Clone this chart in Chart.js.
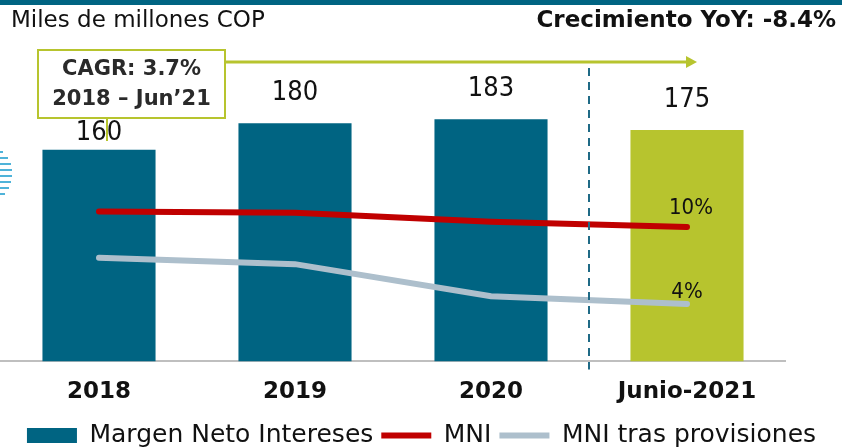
<!DOCTYPE html>
<html>
<head>
<meta charset="utf-8">
<script src="https://cdn.jsdelivr.net/npm/chart.js@4.4.0/dist/chart.umd.min.js"></script>
<style>
  html, body { margin: 0; padding: 0; background: #fff; }
  #wrap { position: relative; width: 842px; height: 448px; }
</style>
</head>
<body>
<div id="wrap"><canvas id="mni" width="842" height="448"></canvas></div>
<script>
// datos
const categorias = ["2018", "2019", "2020", "Junio-2021"];
const margenNeto = [160, 180, 183, 175];
const mni = [11.2, 11.1, 10.4, 10.0];
const mniProvisiones = [7.6, 7.1, 4.6, 4.0];
const etiquetasMni = ["", "", "", "10%"];
const etiquetasProv = ["", "", "", "4%"];

const FONT = "'DejaVu Sans', sans-serif";
const FONT_NUM = "'DejaVu Sans Condensed', 'DejaVu Sans', sans-serif";
const TEAL = "#006482";
const LIME = "#b7c42e";
const RED = "#c00000";
const GRAY = "#adbfcc";

// textos, caja CAGR, flecha, linea punteada y etiquetas
const extras = {
  id: "extras",
  afterDatasetsDraw(chart) {
    const ctx = chart.ctx;
    const x = chart.scales.x;
    const area = chart.chartArea;
    ctx.save();

    // banda superior
    ctx.fillStyle = TEAL;
    ctx.fillRect(0, 0, 842, 5);

    ctx.fillStyle = "#111";
    ctx.font = "23px " + FONT;
    ctx.textBaseline = "middle";
    ctx.textAlign = "left";
    ctx.fillText("Miles de millones COP", 11, 21);
    ctx.font = "bold 23px " + FONT;
    ctx.textAlign = "right";
    ctx.fillText("Crecimiento YoY: -8.4%", 836, 21);

    // decoracion a la izquierda
    ctx.strokeStyle = "#4fb3d9";
    ctx.lineWidth = 2;
    [[152, 3], [158, 8], [164, 11], [170, 12], [176, 12], [182, 11], [188, 9], [194, 5]].forEach(([yy, w]) => {
      ctx.beginPath(); ctx.moveTo(0, yy); ctx.lineTo(w, yy); ctx.stroke();
    });

    // linea punteada entre 2020 y Junio-2021
    const xd = (x.getPixelForValue(2) + x.getPixelForValue(3)) / 2;
    ctx.strokeStyle = "#1f6a86";
    ctx.lineWidth = 2;
    ctx.setLineDash([8, 6]);
    ctx.beginPath(); ctx.moveTo(xd, 68); ctx.lineTo(xd, area.bottom + 8); ctx.stroke();
    ctx.setLineDash([]);

    // etiquetas de barras
    const meta = chart.getDatasetMeta(0);
    ctx.fillStyle = "#111";
    ctx.font = "27px " + FONT_NUM;
    ctx.textAlign = "center";
    meta.data.forEach((bar, i) => {
      const off = i === 0 ? 17 : 30;
      ctx.fillText(String(margenNeto[i]), bar.x, bar.y - off);
    });

    // etiquetas de lineas
    ctx.font = "22px " + FONT_NUM;
    chart.getDatasetMeta(1).data.forEach((p, i) => {
      if (etiquetasMni[i]) ctx.fillText(etiquetasMni[i], p.x + 4, p.y - 19);
    });
    chart.getDatasetMeta(2).data.forEach((p, i) => {
      if (etiquetasProv[i]) ctx.fillText(etiquetasProv[i], p.x, p.y - 12);
    });

    // caja CAGR y flecha
    const bx = 38, by = 50, bw = 187, bh = 68;
    ctx.strokeStyle = LIME;
    ctx.lineWidth = 2;
    ctx.beginPath(); ctx.moveTo(107, by + bh); ctx.lineTo(107, 141); ctx.stroke();
    ctx.fillStyle = "#fff";
    ctx.fillRect(bx, by, bw, bh);
    ctx.strokeRect(bx, by, bw, bh);
    ctx.fillStyle = "#2a2a2a";
    ctx.font = "bold 21px " + FONT;
    ctx.fillText("CAGR: 3.7%", bx + bw / 2, by + 20);
    ctx.fillText("2018 \u2013 Jun\u201921", bx + bw / 2, by + 50);

    const xe = x.getPixelForValue(3) + 10;
    ctx.lineWidth = 3;
    ctx.beginPath(); ctx.moveTo(bx + bw, 62); ctx.lineTo(xe - 8, 62); ctx.stroke();
    ctx.fillStyle = LIME;
    ctx.beginPath(); ctx.moveTo(xe, 62); ctx.lineTo(xe - 11, 56); ctx.lineTo(xe - 11, 68); ctx.closePath(); ctx.fill();

    ctx.restore();
  }
};

new Chart(document.getElementById("mni"), {
  type: "bar",
  data: {
    labels: categorias,
    datasets: [
      {
        label: "Margen Neto Intereses",
        data: margenNeto,
        backgroundColor: [TEAL, TEAL, TEAL, LIME],
        borderWidth: 0,
        barPercentage: 0.577,
        categoryPercentage: 1,
        pointStyle: "rect",
        order: 2,
        yAxisID: "y"
      },
      {
        type: "line",
        label: "MNI",
        data: mni,
        borderColor: RED,
        backgroundColor: RED,
        borderWidth: 6,
        borderCapStyle: "round",
        pointRadius: 0,
        pointStyle: "line",
        order: 1,
        yAxisID: "y2"
      },
      {
        type: "line",
        label: "MNI tras provisiones",
        data: mniProvisiones,
        borderColor: GRAY,
        backgroundColor: GRAY,
        borderWidth: 6,
        borderCapStyle: "round",
        pointRadius: 0,
        pointStyle: "line",
        order: 1,
        yAxisID: "y2"
      }
    ]
  },
  options: {
    responsive: false,
    animation: false,
    devicePixelRatio: 1,
    layout: { padding: { left: 1, right: 0, top: 40, bottom: -10 } },
    scales: {
      x: {
        grid: { display: false },
        border: { display: true, color: "#bfbfbf", width: 2 },
        ticks: { color: "#111", padding: 9, font: { family: FONT, size: 23, weight: "bold" } }
      },
      y: { display: false, min: 0, max: 243 },
      y2: {
        display: true,
        position: "right",
        min: -0.47,
        max: 24.55,
        grid: { display: false },
        border: { display: false },
        ticks: { display: false },
        afterFit(s) { s.width = 57; }
      }
    },
    plugins: {
      tooltip: { enabled: false },
      legend: {
        position: "bottom",
        labels: {
          usePointStyle: true,
          pointStyleWidth: 50,
          boxHeight: 15,
          padding: 8,
          color: "#111",
          font: { family: FONT, size: 25 },
          sort: (a, b) => a.datasetIndex - b.datasetIndex
        }
      }
    }
  },
  plugins: [extras]
});
</script>
</body>
</html>
